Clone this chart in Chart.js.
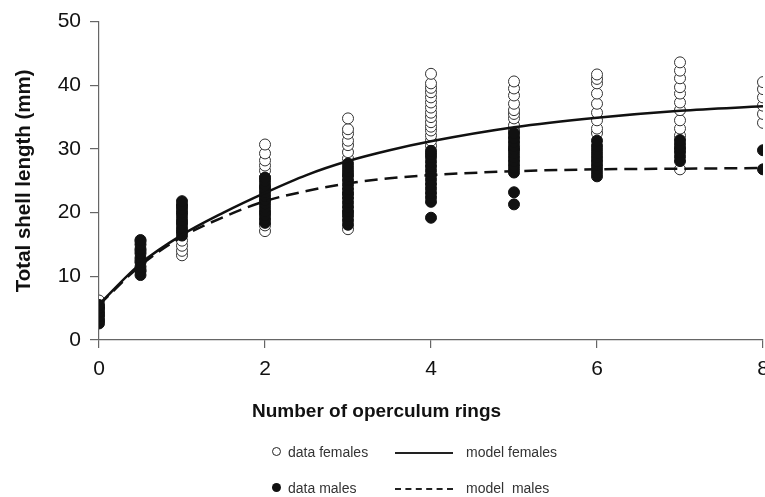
<!DOCTYPE html>
<html>
<head>
<meta charset="utf-8">
<script src="https://cdn.jsdelivr.net/npm/chart.js@4.4.1/dist/chart.umd.min.js"></script>
<style>
  html, body { margin: 0; padding: 0; background: #fff; }
  #wrap { position: relative; width: 765px; height: 497px; overflow: hidden; font-family: "Liberation Sans", Arial, sans-serif; }
  #shellChart { position: absolute; left: 0; top: 0; }
  .xtitle { position: absolute; left: 252px; top: 400px; font-size: 19px; font-weight: bold; color: #111; white-space: nowrap; }
  .lg { position: absolute; font-size: 14px; color: #333; white-space: nowrap; line-height: 16px; }
  .mk { position: absolute; width: 9px; height: 9px; border-radius: 50%; box-sizing: border-box; }
  .ln { position: absolute; width: 58px; height: 0; }
</style>
</head>
<body>
<div id="wrap">
  <canvas id="shellChart" width="765" height="497"></canvas>
  <div class="xtitle">Number of operculum rings</div>

  <!-- legend -->
  <div class="mk" style="left:272px; top:447px; border:1.5px solid #222; background:#fff;"></div>
  <div class="lg" style="left:288px; top:444px;">data females</div>
  <div class="ln" style="left:395px; top:452px; border-top:2px solid #222;"></div>
  <div class="lg" style="left:466px; top:444px;">model females</div>
  <div class="mk" style="left:272px; top:483px; background:#111;"></div>
  <div class="lg" style="left:288px; top:480px;">data males</div>
  <div class="ln" style="left:395px; top:488px; border-top:2px dashed #222;"></div>
  <div class="lg" style="left:466px; top:480px;">model&nbsp;&nbsp;males</div>
</div>

<script>
// rings counted on the operculum
const rings = [0, 0.5, 1, 2, 3, 4, 5, 6, 7, 8];

// shell lengths (mm) per ring count
const femaleLengths = [
  [3.0, 4.0, 5.0, 6.2],
  [11.0, 12.5, 14.0, 15.5],
  [13.3, 14.0, 14.8, 15.6, 17.0, 18.5, 20.0, 21.0],
  [17.1, 18.0, 20.0, 22.0, 24.0, 25.5, 26.6, 27.4, 28.2, 29.3, 30.7],
  [17.4, 20.0, 23.0, 26.0, 28.5, 29.5, 30.6, 31.3, 32.4, 33.1, 34.8],
  [30.5, 31.3, 32.1, 32.9, 33.5, 34.2, 35.0, 35.7, 36.5, 37.3, 38.1, 38.9, 39.6, 40.3, 41.8],
  [30.0, 32.0, 33.0, 33.7, 34.8, 35.5, 36.1, 37.1, 38.4, 39.5, 40.6],
  [32.5, 33.2, 34.5, 35.7, 37.1, 38.7, 40.3, 41.0, 41.7],
  [26.8, 30.0, 32.1, 33.2, 34.5, 36.1, 37.3, 38.7, 39.7, 41.1, 42.3, 43.6],
  [34.1, 35.5, 36.8, 38.1, 39.4, 40.5],
];
const maleLengths = [
  [2.6, 3.2, 3.8, 4.4, 5.0, 5.5],
  [10.2, 10.8, 11.5, 12.2, 12.9, 13.6, 14.3, 15.0, 15.7],
  [16.4, 17.0, 17.6, 18.2, 18.8, 19.4, 20.0, 20.6, 21.2, 21.8],
  [18.4, 19.0, 19.6, 20.2, 20.8, 21.4, 22.0, 22.6, 23.2, 23.8, 24.4, 25.0, 25.5],
  [18.1, 18.8, 19.5, 20.2, 20.9, 21.6, 22.3, 23.0, 23.7, 24.4, 25.1, 25.8, 26.5, 27.1, 27.7],
  [19.2, 21.7, 22.4, 23.1, 23.8, 24.5, 25.2, 25.9, 26.6, 27.3, 28.0, 28.7, 29.2, 29.7],
  [21.3, 23.2, 26.3, 26.9, 27.5, 28.1, 28.7, 29.3, 29.9, 30.5, 31.1, 31.7, 32.5],
  [25.7, 26.3, 26.9, 27.5, 28.1, 28.7, 29.3, 29.9, 30.5, 31.3],
  [28.1, 28.8, 29.5, 30.2, 30.8, 31.4],
  [26.8, 29.8],
];

// fitted growth curves
const modelRings   = [0, 0.5, 1, 1.5, 2, 2.5, 3, 3.5, 4, 5, 6, 7, 8];
const modelFemales = [5.6, 12.0, 16.5, 20.0, 23.1, 25.9, 28.1, 29.8, 31.2, 33.4, 34.9, 36.0, 36.7];
const modelMales   = [5.5, 11.7, 16.2, 19.3, 21.8, 23.4, 24.6, 25.4, 25.9, 26.5, 26.8, 26.9, 27.0];

const yTicks = [0, 10, 20, 30, 40, 50];
const xTicks = [0, 2, 4, 6, 8];

function toPoints(groups) {
  const pts = [];
  groups.forEach((vals, i) => vals.forEach((v) => pts.push({ x: rings[i], y: v })));
  return pts;
}
const curve = (ys) => ys.map((y, i) => ({ x: modelRings[i], y }));

const axisColor = "#666";
const font = { family: "'Liberation Sans', Arial, sans-serif", size: 21 };

new Chart(document.getElementById("shellChart"), {
  type: "scatter",
  data: {
    datasets: [
      {
        label: "model females",
        data: curve(modelFemales),
        showLine: true,
        borderColor: "#111",
        borderWidth: 2.5,
        pointRadius: 0,
        cubicInterpolationMode: "monotone",
      },
      {
        label: "model males",
        data: curve(modelMales),
        showLine: true,
        borderColor: "#111",
        borderWidth: 2.5,
        borderDash: [13, 7],
        pointRadius: 0,
        cubicInterpolationMode: "monotone",
      },
      {
        label: "data males",
        data: toPoints(maleLengths),
        pointRadius: 5.5,
        backgroundColor: "#111",
        borderColor: "#111",
        borderWidth: 1,
      },
      {
        label: "data females",
        data: toPoints(femaleLengths),
        pointRadius: 5.5,
        backgroundColor: "#fff",
        borderColor: "#333",
        borderWidth: 1,
      },
    ],
  },
  options: {
    animation: false,
    responsive: false,
    events: [],
    layout: { autoPadding: false, padding: { top: 21, right: 2, left: 0, bottom: 0 } },
    plugins: { legend: { display: false }, tooltip: { enabled: false } },
    scales: {
      x: {
        type: "linear",
        min: 0,
        max: 8,
        afterBuildTicks: (s) => { s.ticks = xTicks.map((v) => ({ value: v })); },
        afterFit: (s) => { s.height = 157; s.paddingLeft = 0; s.paddingRight = 0; },
        ticks: { color: "#111", font, padding: 9, maxRotation: 0 },
        grid: { drawOnChartArea: false, drawTicks: true, tickLength: 8, color: axisColor, lineWidth: 1.2 },
        border: { display: true, color: axisColor, width: 1.2 },
      },
      y: {
        type: "linear",
        min: 0,
        max: 50,
        afterBuildTicks: (s) => { s.ticks = yTicks.map((v) => ({ value: v })); },
        afterFit: (s) => { s.width = 99; },
        ticks: { color: "#111", font, padding: 9 },
        grid: { drawOnChartArea: false, drawTicks: true, tickLength: 9, color: axisColor, lineWidth: 1.2 },
        border: { display: true, color: axisColor, width: 1.2 },
        title: {
          display: true,
          text: "Total shell length (mm)",
          color: "#111",
          font: { family: font.family, size: 20.5, weight: "bold" },
          padding: { top: 12, bottom: 0 },
        },
      },
    },
  },
});
</script>
</body>
</html>
